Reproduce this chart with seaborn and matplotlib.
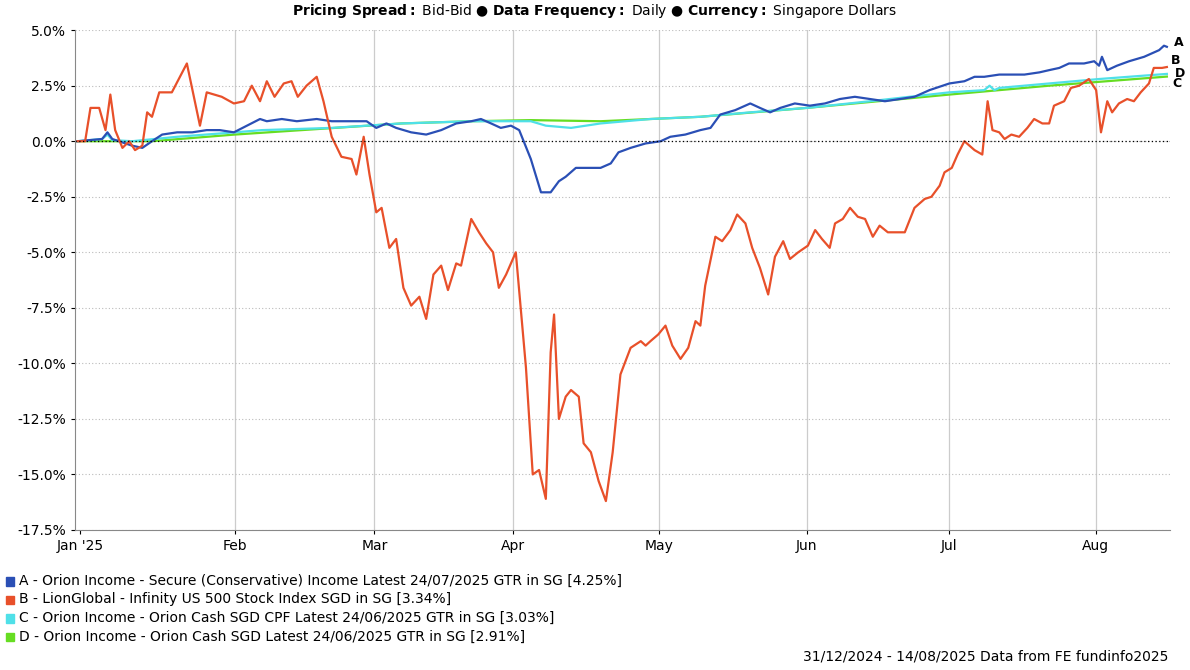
import matplotlib
matplotlib.use("Agg")
import matplotlib.pyplot as plt
import seaborn as sns
import pandas as pd

# days since 31/12/2024
b_day = [0,1.6,2.7,4.5,5.8,6.8,7.8,9.3,10.7,11.9,13.4,14.4,15.4,16.9,19.5,22.6,25.3,26.7,29.8,32.3,34.4,36.0,37.7,39.1,40.7,42.6,44.2,45.5,47.3,49.4,50.8,52.5,54.5,56.6,57.6,59.1,60.3,61.7,62.8,64.4,65.8,67.3,68.9,70.6,72.0,73.5,75.1,76.5,78.2,79.2,81.3,82.9,84.4,85.8,87.0,88.5,90.5,92.6,94.0,95.3,96.7,97.7,98.4,99.4,100.8,101.9,103.5,104.5,106.0,107.6,109.1,110.5,112.1,114.2,116.3,117.3,118.3,119.9,121.4,122.8,124.5,126.1,127.6,128.6,129.6,131.7,133.1,134.8,136.2,137.9,139.3,140.9,142.6,144.0,145.7,147.1,148.8,150.8,152.3,153.7,155.3,156.4,158.0,159.5,161.1,162.6,164.2,165.6,167.3,170.8,172.8,174.9,176.3,178.0,179.0,180.5,181.7,183.1,185.2,186.8,187.9,188.9,190.3,191.4,192.8,194.4,196.1,197.5,199.2,200.6,201.6,203.7,205.1,206.8,208.8,210.3,211.3,212.6,213.6,215.0,216.7,218.1,219.5,221.2,222.2,223.9,224.9]
b_val = [0,0,1.5,1.5,0.5,2.1,0.5,-0.3,0,-0.4,-0.2,1.3,1.1,2.2,2.2,3.5,0.7,2.2,2.0,1.7,1.8,2.5,1.8,2.7,2.0,2.6,2.7,2.0,2.5,2.9,1.8,0.2,-0.7,-0.8,-1.5,0.2,-1.5,-3.2,-3.0,-4.8,-4.4,-6.6,-7.4,-7.0,-8.0,-6.0,-5.6,-6.7,-5.5,-5.6,-3.5,-4.1,-4.6,-5.0,-6.6,-6.0,-5.0,-10.2,-15.0,-14.8,-16.1,-9.5,-7.8,-12.5,-11.5,-11.2,-11.5,-13.6,-14.0,-15.3,-16.2,-14.0,-10.5,-9.3,-9.0,-9.2,-9.0,-8.7,-8.3,-9.2,-9.8,-9.3,-8.1,-8.3,-6.5,-4.3,-4.5,-4.0,-3.3,-3.7,-4.8,-5.7,-6.9,-5.2,-4.5,-5.3,-5.0,-4.7,-4.0,-4.4,-4.8,-3.7,-3.5,-3.0,-3.4,-3.5,-4.3,-3.8,-4.1,-4.1,-3.0,-2.6,-2.5,-2.0,-1.4,-1.2,-0.6,0,-0.4,-0.6,1.8,0.5,0.4,0.1,0.3,0.2,0.6,1.0,0.8,0.8,1.6,1.8,2.4,2.5,2.8,2.3,0.4,1.8,1.3,1.7,1.9,1.8,2.2,2.6,3.3,3.3,3.34]

a_day = [0,5.1,6.2,7.2,11.3,13.4,15.4,17.5,20.6,23.7,26.7,29.4,32.3,35.0,37.7,39.1,42.2,45.3,49.4,52.5,56.6,59.7,61.7,63.8,65.8,68.9,72.0,75.1,78.2,81.3,83.3,85.4,87.4,89.5,91.2,93.6,95.7,97.7,99.4,100.8,102.9,104.9,108.0,110.1,111.7,114.2,117.3,120.4,122.4,125.5,128.6,130.7,132.7,135.8,138.9,140.9,143.0,145.1,148.1,151.2,154.3,157.4,160.5,163.6,166.7,169.8,172.8,175.9,180.0,183.1,185.2,187.2,190.3,195.5,198.6,200.6,202.7,204.7,207.8,209.9,210.9,211.5,212.6,214.6,217.1,220.2,223.3,224.3,224.9]
a_val = [0,0.1,0.4,0.1,-0.2,-0.3,0,0.3,0.4,0.4,0.5,0.5,0.4,0.7,1.0,0.9,1.0,0.9,1.0,0.9,0.9,0.9,0.6,0.8,0.6,0.4,0.3,0.5,0.8,0.9,1.0,0.8,0.6,0.7,0.5,-0.8,-2.3,-2.3,-1.8,-1.6,-1.2,-1.2,-1.2,-1.0,-0.5,-0.3,-0.1,0.0,0.2,0.3,0.5,0.6,1.2,1.4,1.7,1.5,1.3,1.5,1.7,1.6,1.7,1.9,2.0,1.9,1.8,1.9,2.0,2.3,2.6,2.7,2.9,2.9,3.0,3.0,3.1,3.2,3.3,3.5,3.5,3.6,3.4,3.8,3.2,3.4,3.6,3.8,4.1,4.3,4.25]

c_day = [0,5.1,6.2,7.2,11.3,20.6,32.5,38.1,52.5,66.9,81.3,93.6,96.7,101.9,108,118.3,128.6,138.9,150.6,163.6,180,187.2,188.3,189.3,190.3,200.6,210.9,224.9]
c_val = [0,0.1,0.3,0.05,0,0.2,0.4,0.5,0.6,0.8,0.9,0.9,0.7,0.6,0.8,1.0,1.1,1.3,1.5,1.8,2.2,2.3,2.5,2.3,2.4,2.6,2.8,3.03]

d_day = [0,15.4,32.5,46.3,66.9,81.3,93.6,108,118.3,128.6,150.6,180,200.6,224.9]
d_val = [0,0,0.3,0.5,0.8,0.9,0.95,0.9,1.0,1.1,1.5,2.1,2.5,2.91]

month_days = [0.6,32.5,61.3,89.9,120,150.6,180.0,210.2]
month_labels = ["Jan '25","Feb","Mar","Apr","May","Jun","Jul","Aug"]
y_ticks = [5.0,2.5,0.0,-2.5,-5.0,-7.5,-10.0,-12.5,-15.0,-17.5]

names = ["A - Orion Income - Secure (Conservative) Income Latest 24/07/2025 GTR in SG [4.25%]",
         "B - LionGlobal - Infinity US 500 Stock Index SGD in SG [3.34%]",
         "C - Orion Income - Orion Cash SGD CPF Latest 24/06/2025 GTR in SG [3.03%]",
         "D - Orion Income - Orion Cash SGD Latest 24/06/2025 GTR in SG [2.91%]"]
colors = ["#2a4fb5", "#e8502a", "#4fe0e8", "#66dd22"]
letters = ["A","B","C","D"]

series = [(d_day,d_val,3),(c_day,c_val,2),(a_day,a_val,0),(b_day,b_val,1)]

fig = plt.figure(figsize=(11.9,6.7), dpi=100)
ax = fig.add_axes([0.063,0.209,0.92,0.746])
for days, vals, i in series:
    df = pd.DataFrame({"d":days,"v":vals})
    sns.lineplot(data=df, x="d", y="v", ax=ax, color=colors[i], lw=1.6, estimator=None, sort=False)
ax.axhline(0, color="black", ls=(0,(1,2)), lw=0.9)
ax.set_xlim(-0.5,225.5)
ax.set_ylim(-17.5,5.0)
ax.set_yticks(y_ticks)
ax.set_yticklabels([f"{t:.1f}%" for t in y_ticks], fontsize=10)
ax.set_xticks(month_days)
ax.set_xticklabels(month_labels, fontsize=10)
ax.grid(axis="y", color="#bbbbbb", ls=(0,(1,2)), lw=0.8)
for m in month_days[1:]:
    ax.axvline(m, color="#cccccc", lw=0.9, zorder=0)
ax.set_xlabel(""); ax.set_ylabel("")
for s in ["top","right"]:
    ax.spines[s].set_visible(False)
ax.spines["left"].set_color("#888888"); ax.spines["bottom"].set_color("#888888")
ax.tick_params(length=3, colors="black")
ends = [a_val[-1], b_val[-1], c_val[-1], d_val[-1]]
offs = [0.2, 0.3, -0.45, 0.15]
xs = [227.3, 226.8, 227.0, 227.6]
for i in range(4):
    ax.text(xs[i], ends[i]+offs[i], letters[i], fontsize=9, fontweight="bold", va="center", ha="center", clip_on=False)

fig.text(0.5, 0.983, r"$\bf{Pricing\ Spread:}$ Bid-Bid ● $\bf{Data\ Frequency:}$ Daily ● $\bf{Currency:}$ Singapore Dollars",
         ha="center", va="center", fontsize=10)
for i in range(4):
    y = 1 - (581 + i*18.5)/670
    fig.patches.append(plt.Rectangle((0.005, y-0.007), 0.0065, 0.0125, transform=fig.transFigure, color=colors[i]))
    fig.text(0.016, y, names[i], fontsize=10, va="center")
fig.text(0.982, 1-656/670, "31/12/2024 - 14/08/2025 Data from FE fundinfo2025", ha="right", va="center", fontsize=10)
fig.savefig("out.png", dpi=100)
